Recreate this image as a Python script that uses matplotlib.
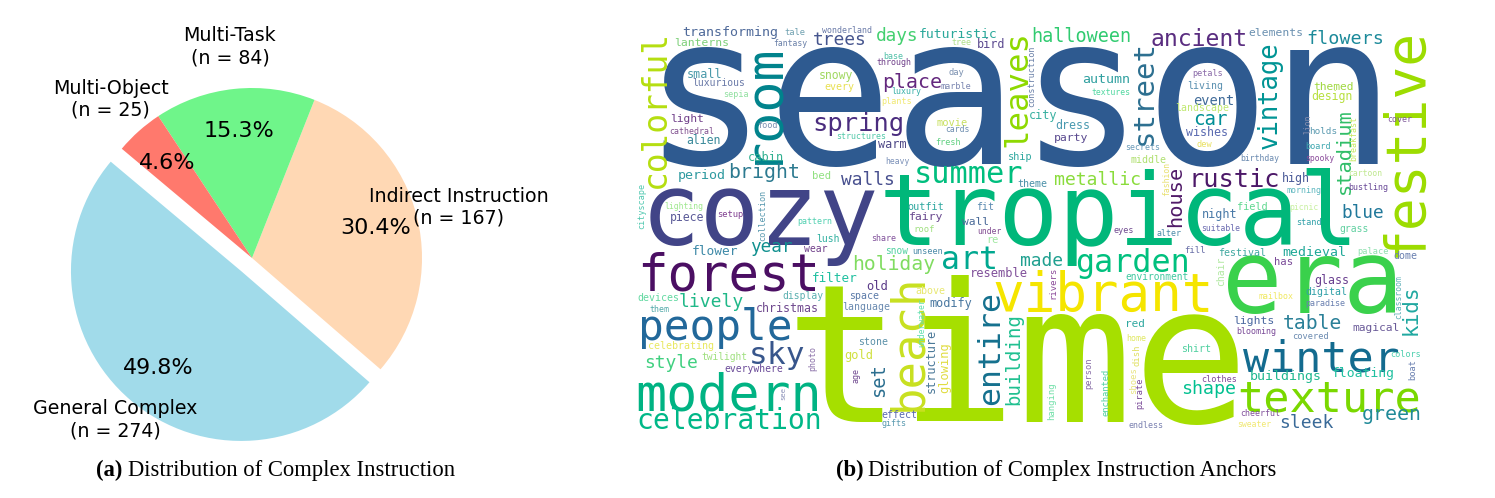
import matplotlib
matplotlib.use("Agg")
import matplotlib.pyplot as plt
from matplotlib.font_manager import FontProperties
from matplotlib.textpath import TextPath

W, H = 1495, 498
DPI = 100

categories = ["General Complex", "Indirect Instruction", "Multi-Task", "Multi-Object"]
counts = [274, 167, 84, 25]
shares = [49.8, 30.4, 15.3, 4.6]

cloud_words = """season time tropical era cozy festive forest vibrant modern people winter texture
celebration beach entire sky room colorful leaves summer spring place garden art street ancient
vintage stadium rustic metallic halloween flowers transforming tale wonderland trees days futuristic
lanterns fantasy tree bird construction base through small luxurious snowy every day marble luxury
sepia plants light city movie food cathedral cards structures alien fresh warm cabin ship heavy period
bright bed walls theme cityscape collection lighting setup piece outfit fit fairy wall pattern roof
under lush share re elements autumn petals living themed textures design event landscape car dress
wishes holds lion cover breakfast party secrets dew board middle birthday spooky fashion house high
cartoon bustling morning field picnic blue night stand suitable grass eyes alter flower year wear snow
unseen holiday made resemble filter old above rivers devices lively display space christmas language
modify them underwater celebrating stone structure photo glowing gold twilight style everywhere set
age see building hanging effect gifts fill festival medieval palace dome has chair environment glass
digital mailbox paradise classroom kids table lights red magical blooming covered home shirt colors
person dish boat buildings floating shoes clothes enchanted pirate shape cheerful green sleek sweater
endless""".split()

# horizontal words: left, right, middle y, colour (pixels of the picture)
flat = {
    "season": (663, 1378, 107, "#2E5A90"), "time": (797, 1238, 350, "#A6DF00"),
    "tropical": (885, 1350, 217, "#00B77A"), "era": (1228, 1395, 286, "#3AD14C"),
    "cozy": (650, 875, 228, "#414487"), "forest": (642, 815, 272, "#4B0F63"),
    "vibrant": (995, 1209, 291, "#F5E500"), "modern": (638, 817, 391, "#00B383"),
    "people": (642, 790, 328, "#22689A"), "winter": (1243, 1398, 355, "#136B8F"),
    "texture": (1240, 1418, 397, "#7AD800"), "celebration": (639, 820, 418, "#00B888"),
    "sky": (752, 804, 355, "#38568C"), "summer": (917, 1022, 175, "#00BE7E"),
    "spring": (815, 902, 124, "#4A2C7E"), "place": (884, 941, 82, "#64287E"),
    "garden": (1077, 1187, 263, "#00C07E"), "art": (943, 995, 258, "#00A890"),
    "ancient": (1152, 1245, 37, "#5A2D80"), "rustic": (1193, 1278, 178, "#4C1868"),
    "metallic": (1055, 1140, 178, "#8ADC3C"), "halloween": (1033, 1130, 35, "#30CB70"),
    "flowers": (1308, 1382, 37, "#1C8A9A"), "transforming": (683, 777, 32, "#4F6A9A"),
    "tale": (785, 805, 32, "#6FA0B0"), "wonderland": (822, 871, 30, "#6A7AA8"),
    "trees": (814, 865, 39, "#46558E"), "days": (877, 917, 36, "#44D070"),
    "futuristic": (920, 997, 33, "#2AA89A"), "lanterns": (675, 728, 42, "#7ED07A"),
    "fantasy": (774, 807, 44, "#6A80A8"), "tree": (952, 971, 42, "#B0E08A"),
    "bird": (978, 1004, 44, "#5C4A90"), "base": (884, 903, 56, "#50C0A8"),
    "through": (877, 911, 63, "#70408A"), "small": (688, 721, 74, "#4A9AAA"),
    "luxurious": (693, 744, 82, "#6A7AA8"), "snowy": (820, 853, 77, "#A0D860"),
    "every": (825, 854, 88, "#E8E050"), "day": (949, 964, 73, "#7A90B0"),
    "marble": (941, 971, 86, "#7A85B0"), "luxury": (892, 921, 92, "#38B0A8"),
    "sepia": (724, 748, 95, "#90E0A0"), "plants": (882, 911, 102, "#F0E870"),
    "light": (671, 703, 119, "#70408A"), "city": (1030, 1057, 116, "#38B0A0"),
    "movie": (937, 967, 122, "#C8E060"), "food": (758, 777, 125, "#7A90B0"),
    "cathedral": (670, 713, 131, "#80508F"), "cards": (946, 969, 129, "#6F8FB0"),
    "structures": (837, 885, 136, "#50C8A8"), "alien": (687, 720, 140, "#3A8A9A"),
    "fresh": (936, 960, 142, "#60D080"), "warm": (878, 906, 145, "#504A88"),
    "cabin": (749, 783, 157, "#30B090"), "ship": (1009, 1032, 157, "#30A8A0"),
    "heavy": (886, 909, 162, "#7A90B8"), "period": (679, 725, 175, "#2F9AA0"),
    "bright": (730, 798, 173, "#2C7A90"), "bed": (813, 830, 175, "#90E080"),
    "walls": (841, 893, 178, "#48508F"), "theme": (1018, 1047, 183, "#4A90A8"),
    "lighting": (665, 703, 207, "#A0E890"), "setup": (718, 743, 215, "#803F90"),
    "piece": (671, 704, 218, "#5A5A98"), "outfit": (908, 943, 206, "#30A8A0"),
    "fit": (977, 993, 206, "#5A8AB0"), "fairy": (910, 943, 217, "#6A4A8F"),
    "wall": (962, 988, 221, "#4A6A98"), "pattern": (798, 832, 222, "#50D0B0"),
    "roof": (915, 934, 229, "#A0E080"), "under": (978, 1001, 231, "#804A90"),
    "lush": (817, 839, 238, "#30B0A0"), "share": (872, 896, 238, "#80509A"),
    "re": (988, 998, 240, "#A0E8A0"), "elements": (1249, 1302, 32, "#6A90B0"),
    "autumn": (1083, 1129, 78, "#30A0A0"), "petals": (1193, 1222, 74, "#8A6AA8"),
    "living": (1188, 1222, 86, "#5A90B0"), "themed": (1314, 1353, 86, "#A0D840"),
    "textures": (1092, 1130, 92, "#50D8A0"), "design": (1312, 1352, 97, "#B8E040"),
    "event": (1194, 1233, 100, "#3F6A98"), "landscape": (1176, 1228, 108, "#C0E870"),
    "car": (1195, 1227, 120, "#008F96"), "dress": (1056, 1089, 125, "#4A9AB0"),
    "wishes": (1186, 1227, 132, "#5A6AB0"), "holds": (1310, 1336, 131, "#5A9AB0"),
    "cover": (1388, 1412, 120, "#805A9A"), "party": (1055, 1088, 138, "#5A4A8F"),
    "secrets": (1126, 1159, 147, "#6A9AB8"), "dew": (1197, 1212, 144, "#E8E060"),
    "board": (1306, 1330, 146, "#40A8B0"), "middle": (1131, 1166, 159, "#B0E070"),
    "birthday": (1241, 1279, 159, "#6A8AB0"), "spooky": (1306, 1334, 159, "#8A4A9A"),
    "high": (1283, 1309, 179, "#4A5A98"), "cartoon": (1349, 1382, 173, "#C0E890"),
    "bustling": (1349, 1388, 188, "#6A4A98"), "morning": (1287, 1321, 191, "#60B8C0"),
    "field": (1238, 1267, 206, "#60D890"), "picnic": (1290, 1318, 208, "#C8F0A0"),
    "blue": (1343, 1383, 211, "#20789A"), "night": (1203, 1236, 215, "#4A7AA8"),
    "stand": (1297, 1321, 222, "#30A0A8"), "suitable": (1202, 1240, 228, "#6A6AB0"),
    "grass": (1340, 1368, 230, "#60D0A0"), "eyes": (1114, 1133, 232, "#704A90"),
    "alter": (1157, 1181, 233, "#4A8AA8"), "flower": (693, 738, 250, "#3F8AA8"),
    "year": (751, 792, 249, "#10908F"), "wear": (804, 827, 249, "#70408A"),
    "snow": (886, 908, 251, "#50D0A0"), "unseen": (913, 942, 252, "#4A8AA8"),
    "holiday": (854, 934, 265, "#80DC60"), "made": (1021, 1062, 259, "#20A090"),
    "resemble": (972, 1027, 272, "#80509A"), "filter": (813, 857, 277, "#20C0A0"),
    "old": (867, 887, 285, "#5A3A88"), "above": (916, 945, 290, "#E8E870"),
    "devices": (638, 678, 297, "#60D8A0"), "lively": (680, 743, 302, "#20B888"),
    "display": (783, 823, 296, "#5AB0B0"), "space": (850, 878, 297, "#5A7AA8"),
    "christmas": (757, 818, 308, "#704A8F"), "language": (843, 889, 307, "#6A8AB0"),
    "modify": (930, 972, 304, "#4A78A0"), "them": (650, 669, 309, "#50A8A8"),
    "celebrating": (649, 713, 346, "#E8E860"), "stone": (859, 887, 342, "#5A90A8"),
    "gold": (845, 872, 356, "#D0E040"), "twilight": (702, 747, 357, "#A0E080"),
    "style": (646, 697, 363, "#40D080"), "everywhere": (725, 783, 369, "#6A4A98"),
    "effect": (882, 916, 414, "#5A6AB0"), "gifts": (882, 906, 424, "#5A9AB0"),
    "fill": (1185, 1205, 250, "#6A70A8"), "festival": (1219, 1265, 252, "#40A8A0"),
    "medieval": (1283, 1345, 251, "#20A898"), "palace": (1358, 1388, 252, "#90E0B0"),
    "dome": (1394, 1417, 255, "#6A80B0"), "has": (1275, 1292, 261, "#7A4A98"),
    "environment": (1126, 1188, 276, "#40C8A0"), "glass": (1315, 1348, 281, "#6A4090"),
    "digital": (1306, 1346, 292, "#30A0A8"), "mailbox": (1259, 1293, 296, "#F0E860"),
    "paradise": (1306, 1345, 304, "#6A80B0"), "table": (1284, 1341, 322, "#2A8098"),
    "lights": (1234, 1273, 321, "#4A68A0"), "red": (1127, 1144, 323, "#30A8A0"),
    "magical": (1353, 1399, 328, "#6A5A98"), "blooming": (1237, 1276, 332, "#7A4A98"),
    "covered": (1293, 1328, 336, "#6A8AB0"), "home": (1127, 1146, 338, "#E0E860"),
    "shirt": (1182, 1210, 348, "#50D0A0"), "colors": (1391, 1420, 354, "#50D0B0"),
    "buildings": (1251, 1320, 376, "#20B890"), "floating": (1333, 1394, 373, "#20C0A0"),
    "clothes": (1202, 1236, 379, "#804A98"), "shape": (1183, 1235, 389, "#00C090"),
    "cheerful": (1241, 1279, 413, "#80509A"), "green": (1363, 1420, 417, "#208A98"),
    "sleek": (1281, 1333, 421, "#3A6A98"), "sweater": (1238, 1271, 424, "#F0E870"),
    "endless": (1129, 1163, 425, "#7A80B0"),
}

# words turned upright: middle x, top, bottom, colour
upright = {
    "festive": (1400, 30, 252, "#9CDC00"), "beach": (904, 278, 407, "#C8E020"),
    "entire": (987, 293, 403, "#14708E"), "room": (761, 42, 155, "#00838C"),
    "colorful": (653, 33, 185, "#B5DE10"), "leaves": (1014, 33, 144, "#8ED900"),
    "street": (1142, 43, 142, "#2C6F90"), "vintage": (1270, 43, 148, "#009494"),
    "stadium": (1342, 109, 192, "#30BE68"), "construction": (1031, 46, 106, "#6A80A8"),
    "cityscape": (642, 183, 228, "#50C8B0"), "collection": (762, 190, 240, "#5A9AB0"),
    "lion": (1307, 115, 133, "#8A90B0"), "breakfast": (1353, 116, 160, "#C8E860"),
    "fashion": (1166, 162, 195, "#E8E070"), "house": (1174, 167, 225, "#501A68"),
    "rivers": (1052, 267, 297, "#8A4A9A"), "underwater": (921, 298, 346, "#60E0B0"),
    "structure": (931, 330, 392, "#4A7898"), "photo": (813, 346, 370, "#8A70A8"),
    "glowing": (945, 343, 392, "#E0DC40"), "set": (878, 365, 395, "#2C6F90"),
    "age": (857, 368, 382, "#704A90"), "see": (783, 387, 399, "#8A90B8"),
    "building": (1014, 315, 403, "#20C090"), "hanging": (1052, 383, 419, "#70E0A8"),
    "chair": (1220, 257, 285, "#B0E8A0"), "classroom": (1398, 275, 318, "#60B0B8"),
    "kids": (1409, 287, 333, "#20A8A0"), "person": (1090, 358, 388, "#8A70A8"),
    "dish": (1136, 345, 365, "#E0E060"), "boat": (1412, 360, 379, "#6A80B0"),
    "shoes": (1133, 368, 393, "#E8E480"), "enchanted": (1105, 369, 415, "#50D0A0"),
    "pirate": (1140, 378, 408, "#7A4A98"),
}

fig = plt.figure(figsize=(W / DPI, H / DPI), dpi=DPI)

# pixel overlay for the cloud and the captions
ov = fig.add_axes([0, 0, 1, 1])
ov.set_xlim(0, W)
ov.set_ylim(H, 0)
ov.axis("off")

# pie
R = 170
cx, cy = 252, 258
half = 1.45 * R
ax = fig.add_axes([(cx - half) / W, 1 - (cy + half) / H, 2 * half / W, 2 * half / H])
labels = [f"{c}\n(n = {n})" for c, n in zip(categories, counts)]
wedges, texts, autotexts = ax.pie(
    shares,
    labels=labels,
    colors=["#A1DBEA", "#FFD8B4", "#6FF58A", "#FF796D"],
    explode=(0.1, 0, 0, 0),
    startangle=140,
    autopct="%1.1f%%",
    pctdistance=0.75,
    labeldistance=1.25,
    textprops={"fontsize": 13.7},
)
ax.set_xlim(-1.45, 1.45)
ax.set_ylim(-1.45, 1.45)
for t in texts:
    t.set_ha("center")
    t.set_va("center")
for t in autotexts:
    t.set_fontsize(16)
texts[0].set_position(((115 - cx) / R, (cy - 420) / R))

# word cloud
mono = FontProperties(family="DejaVu Sans Mono")


def put_word(word, mid_x, mid_y, span, rot, color):
    box = TextPath((0, 0), word, size=1, prop=mono).get_extents()
    size = span / box.width
    along = size * (box.x0 + box.width / 2)
    across = size * (box.y0 + box.height / 2)
    if rot:
        x, y = mid_x + across, mid_y + along
    else:
        x, y = mid_x - along, mid_y + across
    ov.text(x, y, word, color=color, fontproperties=mono, fontsize=size * 72 / DPI,
            ha="left", va="baseline", rotation=rot, rotation_mode="anchor")


for word in cloud_words:
    if word in flat:
        x0, x1, y, color = flat[word]
        put_word(word, (x0 + x1) / 2, y, x1 - x0, 0, color)
    else:
        x, y0, y1, color = upright[word]
        put_word(word, x, (y0 + y1) / 2, y1 - y0, 90, color)

# captions
serif = "Liberation Serif"
ov.text(96, 470, "(a)", family=serif, weight="bold", fontsize=16.3, va="center")
ov.text(128, 470, "Distribution of Complex Instruction", family=serif, fontsize=16.3, va="center")
ov.text(836, 470, "(b)", family=serif, weight="bold", fontsize=16.3, va="center")
ov.text(868, 470, "Distribution of Complex Instruction Anchors", family=serif, fontsize=16.3, va="center")

fig.savefig("out.png", dpi=DPI, facecolor="white")
